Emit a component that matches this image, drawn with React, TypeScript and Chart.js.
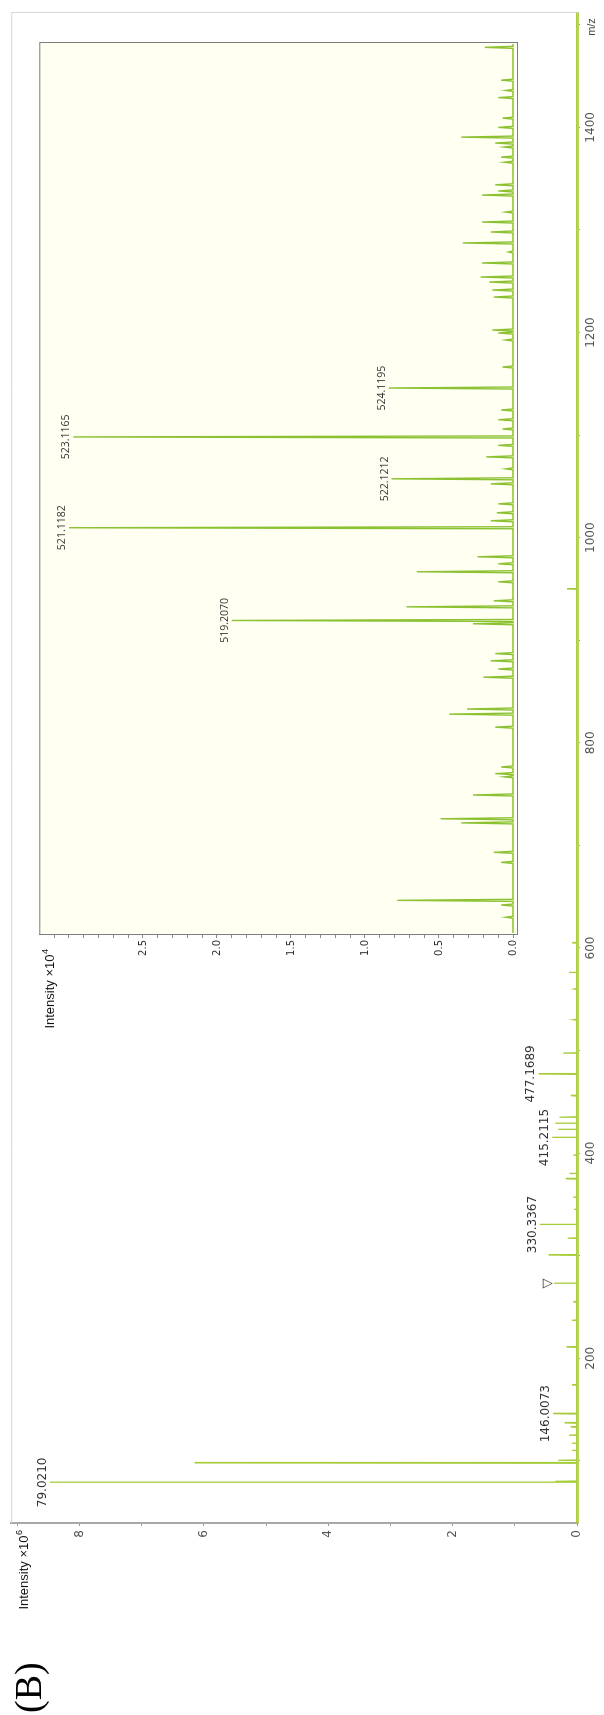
import { useEffect, useRef } from 'react';
import { Chart, registerables } from 'chart.js';
Chart.register(...registerables);

// ---------- main spectrum (Intensity ×10^6) ----------
const mainMz = [79.02, 80.0, 98.0, 100.5, 110, 117, 125, 133, 137, 146.0073, 174, 211, 237, 255, 273, 300.7, 317, 330.3367, 345, 357, 375, 380, 398, 415.2115, 423, 429, 435, 456, 477.1689, 497.5, 530, 560, 576, 605, 950];
const mainInt = [8.48, 0.35, 6.15, 0.3, 0.08, 0.08, 0.13, 0.1, 0.2, 0.38, 0.08, 0.17, 0.08, 0.06, 0.37, 0.46, 0.15, 0.6, 0.05, 0.06, 0.18, 0.12, 0.06, 0.40, 0.3, 0.35, 0.28, 0.1, 0.62, 0.22, 0.05, 0.04, 0.13, 0.08, 0.16];
const mainLabelMz = [79.021, 146.0073, 330.3367, 415.2115, 477.1689];
const mainLabelText = ['79.0210', '146.0073', '330.3367', '415.2115', '477.1689'];
const markerMz = [273];

// ---------- inset spectrum (Intensity ×10^4) ----------
const insetMz = [630, 641.9, 646.5, 683.5, 693.3, 722, 726, 749.2, 766.9, 770, 776.5, 815.3, 828, 833, 864, 872, 880, 887, 916.1, 919.3, 932.6, 938.5, 957, 966.8, 974.6, 981.4, 1009.7, 1016.5, 1024.3, 1033, 1052.5, 1057.4, 1067.1, 1078.8, 1090, 1098.2, 1106, 1115, 1124.5, 1145.9, 1166.4, 1192.7, 1199.5, 1202.4, 1234.6, 1241.4, 1249.2, 1254.1, 1267.8, 1278.5, 1287.3, 1298, 1307.7, 1317.4, 1334, 1338, 1344, 1366, 1371, 1380.8, 1384.7, 1390.5, 1400, 1409, 1429, 1436, 1446, 1478];
const insetInt = [0.05, 0.08, 0.78, 0.08, 0.13, 0.35, 0.49, 0.27, 0.06, 0.12, 0.08, 0.12, 0.43, 0.31, 0.2, 0.1, 0.15, 0.12, 0.27, 1.9, 0.72, 0.13, 0.1, 0.65, 0.1, 0.24, 3.0, 0.15, 0.11, 0.1, 0.15, 0.82, 0.05, 0.18, 0.1, 2.97, 0.07, 0.1, 0.08, 0.84, 0.07, 0.05, 0.1, 0.14, 0.13, 0.14, 0.16, 0.22, 0.21, 0.03, 0.34, 0.15, 0.21, 0.05, 0.21, 0.1, 0.12, 0.06, 0.08, 0.06, 0.12, 0.35, 0.1, 0.07, 0.1, 0.05, 0.08, 0.19];
const insetLabelMz = [919.3, 1009.7, 1057.4, 1098.2, 1145.9];
const insetLabelText = ['519.2070', '521.1182', '522.1212', '523.1165', '524.1195'];

// ---------- axes ----------
const MZ_MIN = 39.4;
const MZ_MAX = 1511.5;
const INT_MAX = 9.1;
const INSET_MZ_MIN = 612.7;
const INSET_MZ_MAX = 1483.2;
const INSET_MIN = -0.027;
const INSET_MAX = 3.2;
const mzTickValues = [100, 200, 300, 400, 500, 600, 700, 800, 900, 1000, 1100, 1200, 1300, 1400, 1500];
const mzLabelValues = [200, 400, 600, 800, 1000, 1200, 1400];
const intTickValues = [0, 1, 2, 3, 4, 5, 6, 7, 8, 9];
const intLabelValues = [0, 2, 4, 6, 8];
const insetTickTenths = [0, 1, 2, 3, 4, 5, 6, 7, 8, 9, 10, 11, 12, 13, 14, 15, 16, 17, 18, 19, 20, 21, 22, 23, 24, 25, 26, 27, 28, 29, 30, 31];
const insetLabelValues = ['0.0', '0.5', '1.0', '1.5', '2.0', '2.5'];

function spikes(mz: number[], inten: number[], hw: number, lo: number, hi: number) {
  const idx = mz.map((_, i) => i).sort((a, b) => mz[a] - mz[b]);
  const pts: { x: number; y: number }[] = [{ x: lo, y: 0 }];
  for (const i of idx) {
    pts.push({ x: mz[i] - hw, y: 0 }, { x: mz[i], y: inten[i] }, { x: mz[i] + hw, y: 0 });
  }
  pts.push({ x: hi, y: 0 });
  return pts;
}

function nearestInt(mzs: number[], ints: number[], target: number) {
  let best = 0;
  for (let i = 1; i < mzs.length; i++) {
    if (Math.abs(mzs[i] - target) < Math.abs(mzs[best] - target)) best = i;
  }
  return ints[best];
}

const mainDecor = {
  id: 'mainDecor',
  afterDraw(chart: any) {
    const { ctx, chartArea: a } = chart;
    const x = chart.scales.x;
    const y = chart.scales.y;
    ctx.save();
    // light frame
    ctx.strokeStyle = '#d6d6d6';
    ctx.lineWidth = 1;
    ctx.beginPath();
    ctx.moveTo(a.left, a.top + 0.5);
    ctx.lineTo(a.right + 0.5, a.top + 0.5);
    ctx.lineTo(a.right + 0.5, a.bottom);
    ctx.stroke();
    // peak labels
    ctx.fillStyle = '#333';
    ctx.font = '12px "DejaVu Sans"';
    ctx.textAlign = 'center';
    ctx.textBaseline = 'alphabetic';
    mainLabelMz.forEach((m, i) => {
      const I = nearestInt(mainMz, mainInt, m);
      ctx.fillText(mainLabelText[i], x.getPixelForValue(m), y.getPixelForValue(I) - 4);
    });
    ctx.font = '13px "DejaVu Sans"';
    markerMz.forEach((m) => {
      const I = nearestInt(mainMz, mainInt, m);
      ctx.fillText('▽', x.getPixelForValue(m), y.getPixelForValue(I) - 3);
    });
    // axis title
    ctx.fillStyle = '#111';
    ctx.font = '9px "Liberation Sans"';
    const sw = ctx.measureText('6').width;
    const rightEnd = a.left - 7;
    ctx.textAlign = 'left';
    ctx.fillText('6', rightEnd - sw, a.top + 11);
    ctx.font = '13px "Liberation Sans"';
    ctx.textAlign = 'right';
    ctx.fillText('Intensity ×10', rightEnd - sw - 0.5, a.top + 17);
    // m/z
    ctx.fillStyle = '#444';
    ctx.font = '11px "Liberation Sans"';
    ctx.textAlign = 'center';
    ctx.textBaseline = 'middle';
    ctx.fillText('m/z', a.right - 14, a.bottom + 15);
    // panel label
    ctx.fillStyle = '#000';
    ctx.font = '38px "Liberation Serif"';
    ctx.textAlign = 'left';
    ctx.textBaseline = 'middle';
    ctx.fillText('(B)', 2, 31);
    ctx.restore();
  },
};

const insetDecor = {
  id: 'insetDecor',
  beforeDraw(chart: any) {
    const { ctx, chartArea: a } = chart;
    ctx.save();
    ctx.fillStyle = '#fffff2';
    ctx.fillRect(a.left, a.top, a.right - a.left, a.bottom - a.top);
    ctx.restore();
  },
  afterDraw(chart: any) {
    const { ctx, chartArea: a } = chart;
    const x = chart.scales.x;
    const y = chart.scales.y;
    ctx.save();
    ctx.strokeStyle = '#7d7d7d';
    ctx.lineWidth = 1;
    ctx.strokeRect(a.left + 0.5, a.top + 0.5, a.right - a.left - 1, a.bottom - a.top);
    ctx.fillStyle = '#333';
    ctx.font = '10.5px "Open Sans"';
    ctx.textAlign = 'center';
    ctx.textBaseline = 'alphabetic';
    insetLabelMz.forEach((m, i) => {
      const I = nearestInt(insetMz, insetInt, m);
      ctx.fillText(insetLabelText[i], x.getPixelForValue(m), y.getPixelForValue(I) - 4);
    });
    ctx.fillStyle = '#111';
    ctx.font = '9px "Liberation Sans"';
    const sw = ctx.measureText('4').width;
    const rightEnd = a.left - 14;
    ctx.textAlign = 'left';
    ctx.fillText('4', rightEnd - sw, a.top + 9);
    ctx.font = '13px "Liberation Sans"';
    ctx.textAlign = 'right';
    ctx.fillText('Intensity ×10', rightEnd - sw - 0.5, a.top + 15);
    ctx.restore();
  },
};

export default function App() {
  const mainRef = useRef<HTMLCanvasElement>(null);
  const insetRef = useRef<HTMLCanvasElement>(null);

  useEffect(() => {
    const main = new Chart(mainRef.current as HTMLCanvasElement, {
      type: 'scatter',
      data: {
        datasets: [
          {
            data: spikes(mainMz, mainInt, 0.35, MZ_MIN, MZ_MAX),
            showLine: true,
            borderColor: '#a6cc3a',
            borderWidth: 1.3,
            pointRadius: 0,
            tension: 0,
          },
        ],
      },
      options: {
        animation: false,
        responsive: false,
        maintainAspectRatio: false,
        devicePixelRatio: 1,
        layout: { padding: { left: 0, top: 7, right: 13, bottom: 0 } },
        plugins: { legend: { display: false }, tooltip: { enabled: false } },
        scales: {
          x: {
            type: 'linear',
            position: 'bottom',
            min: MZ_MIN,
            max: MZ_MAX,
            afterBuildTicks: (s: any) => {
              s.ticks = mzTickValues.map((v) => ({ value: v }));
            },
            afterFit: (s: any) => {
              s.height = 27;
            },
            ticks: {
              autoSkip: false,
              maxRotation: 0,
              minRotation: 0,
              padding: 4,
              color: '#555',
              font: { family: 'DejaVu Sans', size: 12 },
              callback: (v: any) => (mzLabelValues.includes(v) ? String(v) : ''),
            },
            grid: { display: true, drawOnChartArea: false, drawTicks: true, tickLength: 3, color: '#999' },
            border: { display: true, color: '#b9d65a', width: 3 },
          },
          y: {
            type: 'linear',
            position: 'left',
            min: 0,
            max: INT_MAX,
            afterBuildTicks: (s: any) => {
              s.ticks = intTickValues.map((v) => ({ value: v }));
            },
            afterFit: (s: any) => {
              s.width = 192;
            },
            ticks: {
              autoSkip: false,
              padding: 4,
              color: '#555',
              font: { family: 'DejaVu Sans', size: 12 },
              callback: (v: any) => (intLabelValues.includes(v) ? String(v) : ''),
            },
            grid: { display: true, drawOnChartArea: false, drawTicks: true, tickLength: 3, color: '#999' },
            border: { display: true, color: '#a8a8a8', width: 2 },
          },
        },
      },
      plugins: [mainDecor],
    } as any);

    const inset = new Chart(insetRef.current as HTMLCanvasElement, {
      type: 'scatter',
      data: {
        datasets: [
          {
            data: spikes(insetMz, insetInt, 1.0, INSET_MZ_MIN + 2, INSET_MZ_MAX - 2),
            showLine: true,
            borderColor: '#8cc232',
            borderWidth: 1.4,
            pointRadius: 0,
            tension: 0,
          },
        ],
      },
      options: {
        animation: false,
        responsive: false,
        maintainAspectRatio: false,
        devicePixelRatio: 1,
        layout: { padding: { left: 0, top: 9.3, right: 12, bottom: 13 } },
        plugins: { legend: { display: false }, tooltip: { enabled: false } },
        scales: {
          x: { type: 'linear', display: false, min: INSET_MZ_MIN, max: INSET_MZ_MAX },
          y: {
            type: 'linear',
            position: 'left',
            min: INSET_MIN,
            max: INSET_MAX,
            afterBuildTicks: (s: any) => {
              s.ticks = insetTickTenths.map((t) => ({ value: t / 10 }));
            },
            afterFit: (s: any) => {
              s.width = 140;
            },
            ticks: {
              autoSkip: false,
              padding: 2,
              color: '#333',
              font: { family: 'DejaVu Sans', size: 10 },
              callback: (v: any) => {
                const t = (Math.round(v * 10) / 10).toFixed(1);
                return insetLabelValues.includes(t) ? t : '';
              },
            },
            grid: { display: true, drawOnChartArea: false, drawTicks: true, tickLength: 3, color: '#888' },
            border: { display: true, color: '#7d7d7d', width: 1 },
          },
        },
      },
      plugins: [insetDecor],
    } as any);

    return () => {
      main.destroy();
      inset.destroy();
    };
  }, []);

  return (
    <div style={{ position: 'absolute', left: 0, top: 0, width: 604, height: 1715, overflow: 'hidden', background: '#fff' }}>
      <div
        style={{
          position: 'absolute',
          left: 0,
          top: 0,
          width: 1715,
          height: 604,
          transformOrigin: '0 0',
          transform: 'translate(0px, 1715px) rotate(-90deg)',
        }}
      >
        <canvas ref={mainRef} width={1715} height={604} style={{ position: 'absolute', left: 0, top: 0, width: 1715, height: 604 }} />
        <canvas ref={insetRef} width={1045} height={500} style={{ position: 'absolute', left: 640, top: 30, width: 1045, height: 500 }} />
      </div>
    </div>
  );
}
